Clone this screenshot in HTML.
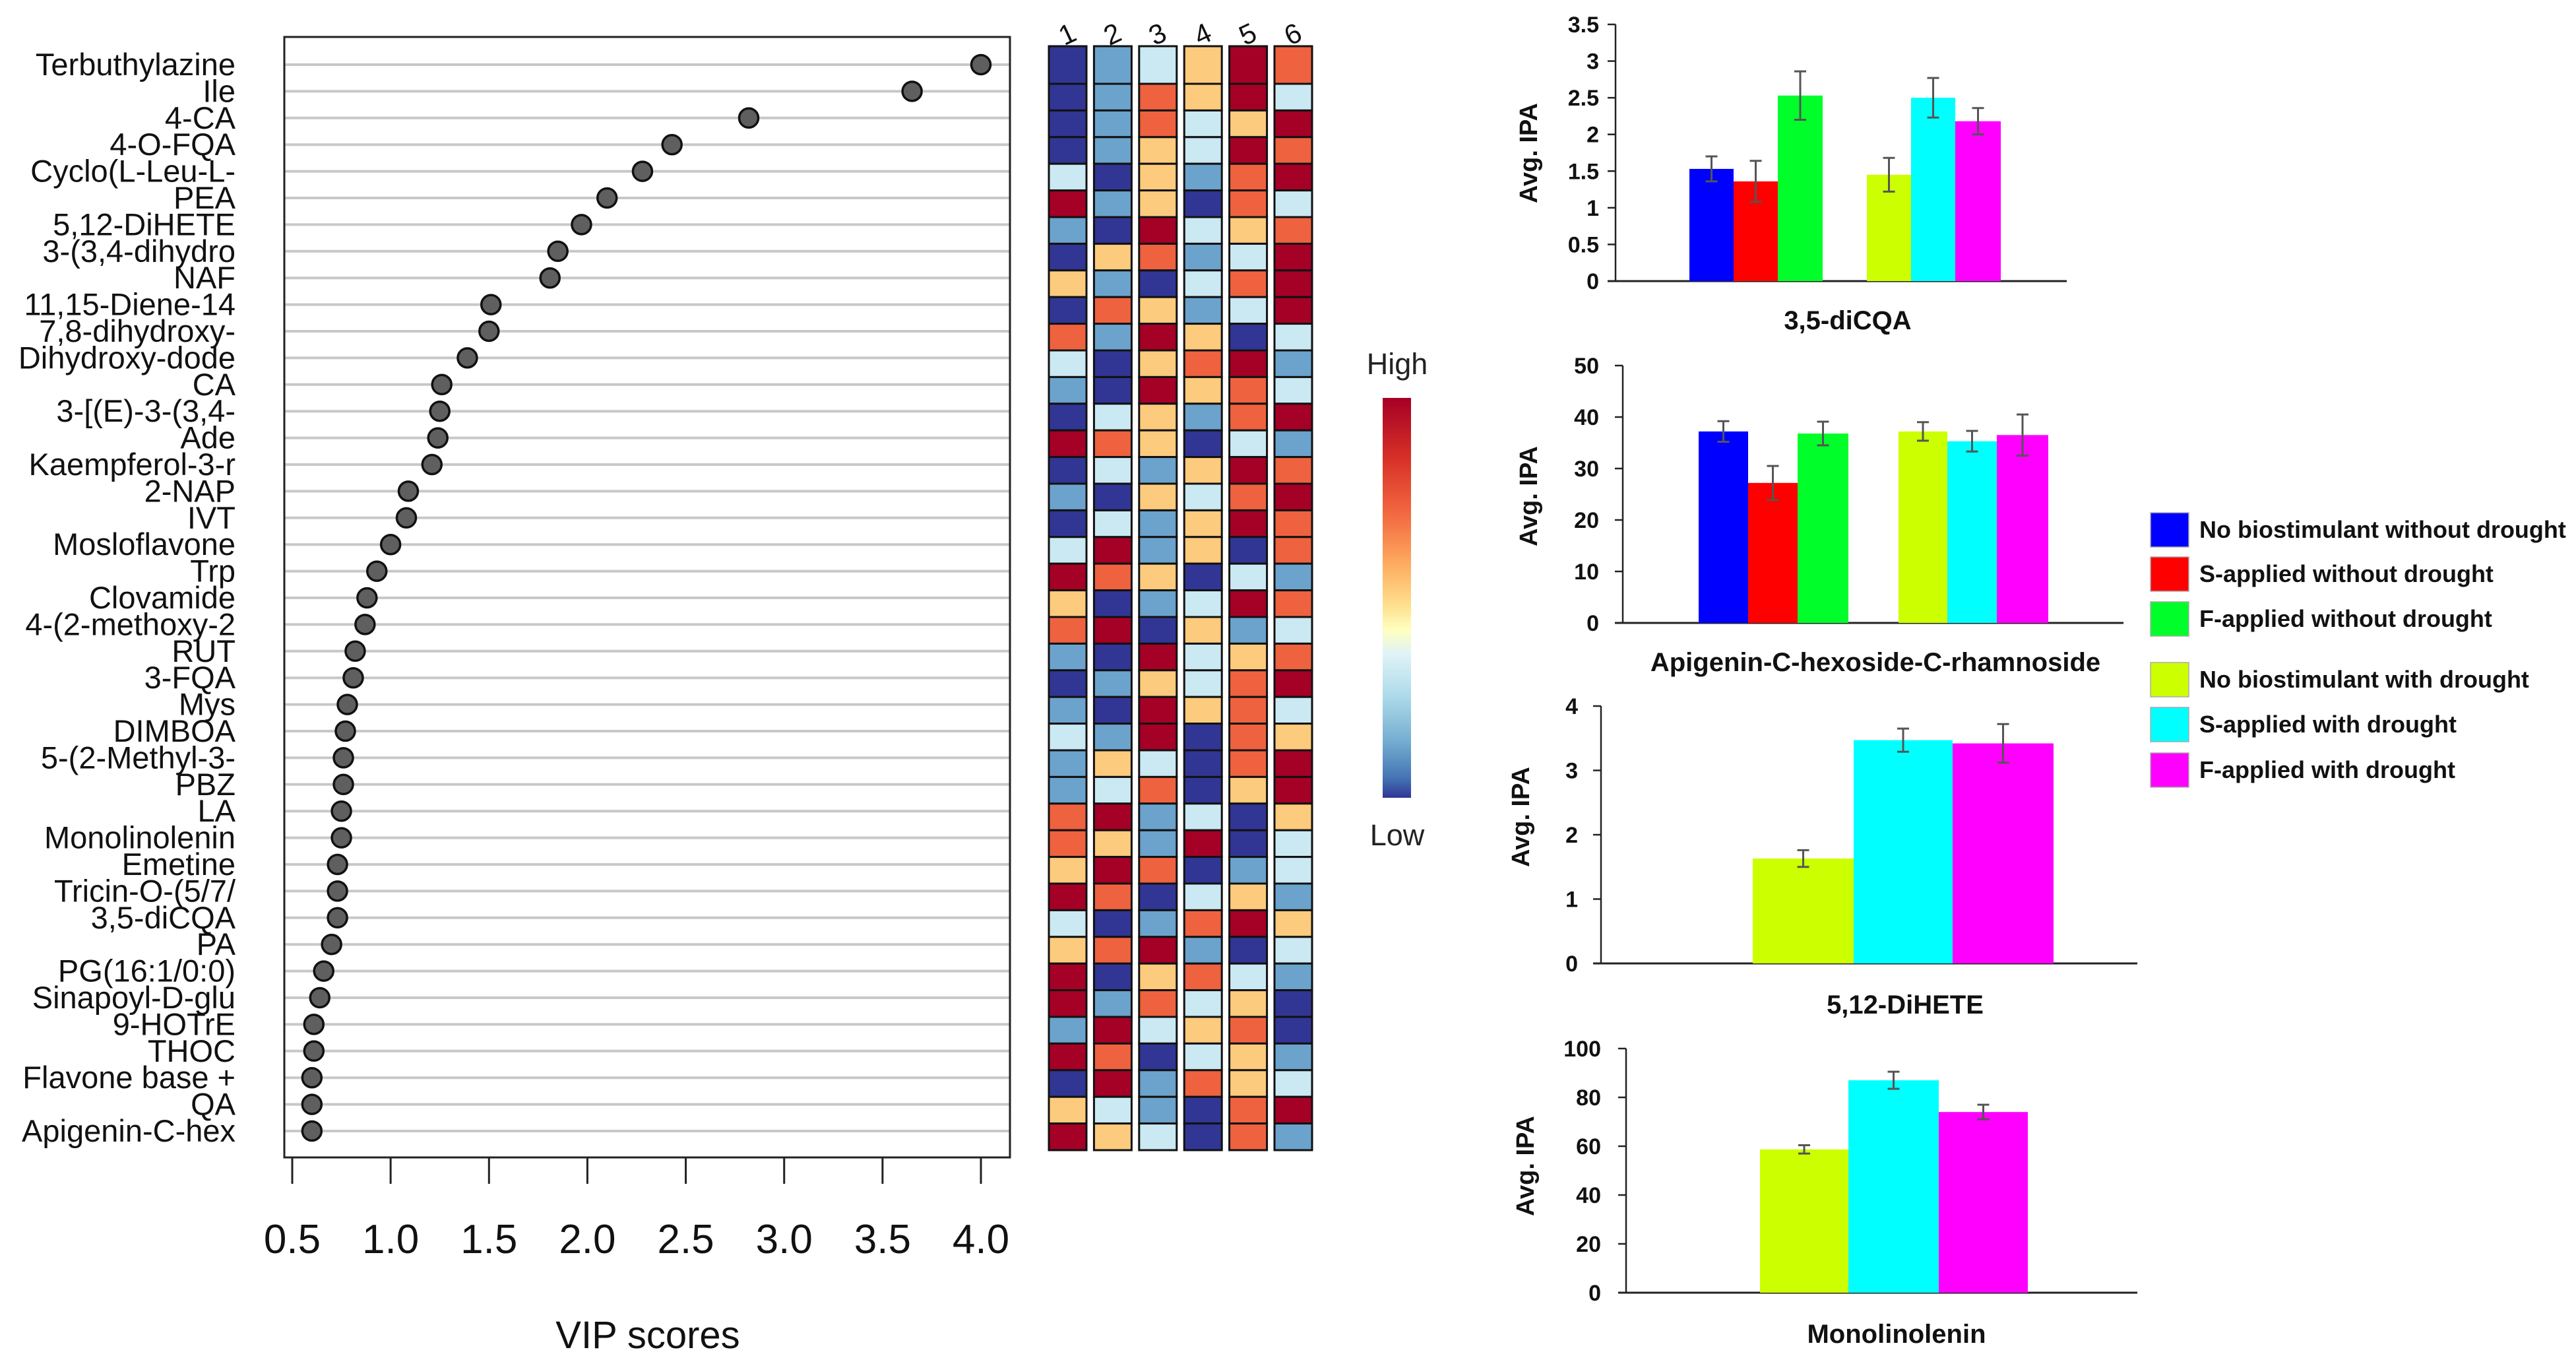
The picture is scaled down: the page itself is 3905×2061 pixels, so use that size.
<!DOCTYPE html>
<html><head><meta charset="utf-8"><style>
html,body{margin:0;padding:0;background:#fff;}
svg{display:block;}
text{font-family:"Liberation Sans",sans-serif;}
</style></head><body>
<svg id="fig" width="3905" height="2061" viewBox="0 0 3905 2061" xmlns="http://www.w3.org/2000/svg"></svg>
<script>
// ===== VIP dot plot data =====
const vipNames = ["Terbuthylazine","Ile","4-CA","4-O-FQA","Cyclo(L-Leu-L-","PEA","5,12-DiHETE","3-(3,4-dihydro","NAF","11,15-Diene-14","7,8-dihydroxy-","Dihydroxy-dode","CA","3-[(E)-3-(3,4-","Ade","Kaempferol-3-r","2-NAP","IVT","Mosloflavone","Trp","Clovamide","4-(2-methoxy-2","RUT","3-FQA","Mys","DIMBOA","5-(2-Methyl-3-","PBZ","LA","Monolinolenin","Emetine","Tricin-O-(5/7/","3,5-diCQA","PA","PG(16:1/0:0)","Sinapoyl-D-glu","9-HOTrE","THOC","Flavone base +","QA","Apigenin-C-hex"];
const vipScores = [4.0,3.65,2.82,2.43,2.28,2.1,1.97,1.85,1.81,1.51,1.5,1.39,1.26,1.25,1.24,1.21,1.09,1.08,1.0,0.93,0.88,0.87,0.82,0.81,0.78,0.77,0.76,0.76,0.75,0.75,0.73,0.73,0.73,0.70,0.66,0.64,0.61,0.61,0.60,0.60,0.60];
const vipTicks = [0.5,1.0,1.5,2.0,2.5,3.0,3.5,4.0];
// ===== Heatmap data (levels: 0 low .. 5 high) =====
const heatRows = ["DBLYRO","DBOYRL","DBOLYR","DBYLRO","LDYBOR","RBYDOL","BDRLYO","DYOBLR","YBDLOR","DOYBLR","OBRYDL","LDYORB","BDRYOL","DLYBOR","ROYDLB","DLBYRO","BDYLOR","DLBYRO","LRBYDO","ROYDLB","YDBLRO","ORDYBL","BDRLYO","DBYLOR","BDRYOL","LBRDOY","BYLDOR","BLODYR","ORBLDY","OYBRDL","YRODBL","RODLYB","LDBORY","YORBDL","RDYOLB","RBOLYD","BRLYOD","RODLYB","DRBOYL","YLBDOR","RYLDOB"];
const heatCols = ["1","2","3","4","5","6"];
// ===== Bar chart data =====
const groups = ["No biostimulant without drought","S-applied without drought","F-applied without drought","No biostimulant with drought","S-applied with drought","F-applied with drought"];
const c1Vals = [1.53,1.36,2.53,1.45,2.5,2.18];
const c1Err = [0.17,0.28,0.33,0.23,0.27,0.18];
const c1Ticks = ["0","0.5","1","1.5","2","2.5","3","3.5"];
const c2Vals = [37.2,27.2,36.8,37.2,35.3,36.5];
const c2Err = [2.0,3.3,2.3,1.8,2.0,4.0];
const c2Ticks = ["0","10","20","30","40","50"];
const c3Vals = [1.63,3.47,3.42];
const c3Err = [0.13,0.18,0.3];
const c3Ticks = ["0","1","2","3","4"];
const c4Vals = [58.7,87,74];
const c4Err = [1.7,3.5,3.0];
const c4Ticks = ["0","20","40","60","80","100"];

const NS="http://www.w3.org/2000/svg";
const svg=document.getElementById('fig');
function mk(tag,attrs,parent){const e=document.createElementNS(NS,tag);for(const k in attrs)e.setAttribute(k,attrs[k]);(parent||svg).appendChild(e);return e;}
function txt(s,attrs,parent){const e=mk('text',attrs,parent);e.textContent=s;return e;}

// ---------- VIP plot ----------
const vipG=mk('g',{});


const px0=431,px1=1531,py0=56,py1=1754;
const xScale=v=>443+(v-0.5)*(1487-443)/3.5;
const rowY=i=>98+i*40.4;
vipNames.forEach((n,i)=>{
  const l=mk('line',{x1:px0,x2:px1,y1:rowY(i),y2:rowY(i),stroke:'#c8c8c8','stroke-width':4},vipG);
  
  
  const t=txt(n,{x:357,y:rowY(i)+16,'text-anchor':'end','font-size':47,fill:'#111'},vipG);
  
  
});
const box=mk('rect',{x:px0,y:py0,width:px1-px0,height:py1-py0,fill:'none',stroke:'#222','stroke-width':3},vipG);


vipScores.forEach((v,i)=>{
  const c=mk('circle',{cx:xScale(v),cy:rowY(i),r:14.5,fill:'#5f5f5f',stroke:'#111','stroke-width':3.5},vipG);
  
  
});
vipTicks.forEach(t=>{
  const x=xScale(t);
  const l=mk('line',{x1:x,x2:x,y1:py1,y2:py1+40,stroke:'#222','stroke-width':3},vipG);
  
  
  const tx=txt(t.toFixed(1),{x:x,y:1899,'text-anchor':'middle','font-size':62,fill:'#111'},vipG);
  
  
});
const xt=txt('VIP scores',{x:982,y:2043,'text-anchor':'middle','font-size':58,fill:'#111'},vipG);



// ---------- Heatmap ----------
const hmG=mk('g',{});


const pal={D:'#313695',B:'#6ba3cd',L:'#cbe9f2',Y:'#fdcb7d',O:'#ef623f',R:'#a50026'};
const colX=j=>1590+j*68.4;
const cellTop=i=>i===0?70:127+(i-1)*40.4;
const cellBot=i=>127+i*40.4;
heatRows.forEach((row,i)=>{
  for(let j=0;j<heatCols.length;j++){
    const r=mk('rect',{x:colX(j),y:cellTop(i),width:57,height:cellBot(i)-cellTop(i),fill:pal[row[j]],stroke:'#111','stroke-width':3},hmG);
    
    
  }
});
heatCols.forEach((c,j)=>{
  const cx=colX(j)+28;
  const t=txt(c,{x:cx,y:66,'text-anchor':'middle','font-size':42,fill:'#111',transform:`rotate(-25 ${cx} 52)`},hmG);
  
  
});
// colour bar
const defs=mk('defs',{});
const lg=mk('linearGradient',{id:'cb',x1:0,y1:0,x2:0,y2:1},defs);
[['0','#a50026'],['0.15','#d73027'],['0.3','#f46d43'],['0.42','#fdae61'],['0.52','#fee090'],['0.58','#ffffbf'],['0.64','#e0f3f8'],['0.75','#abd9e9'],['0.86','#74add1'],['0.95','#4575b4'],['1','#313695']].forEach(s=>mk('stop',{offset:s[0],'stop-color':s[1]},lg));
const cb=mk('rect',{x:2096,y:603,width:43,height:606,fill:'url(#cb)'},hmG);


const hi=txt('High',{x:2118,y:567,'text-anchor':'middle','font-size':45,fill:'#222'},hmG);


const lo=txt('Low',{x:2118,y:1281,'text-anchor':'middle','font-size':45,fill:'#222'},hmG);



// ---------- Bar charts ----------
const barColors=['#0000ff','#ff0000','#00ff2a','#ccff00','#00ffff','#ff00ff'];
function barChart(cfg){
  const g=mk('g',{});
  
  
  const ymax=parseFloat(cfg.ticks[cfg.ticks.length-1]);
  const yS=v=>cfg.y0-(v/ymax)*(cfg.y0-cfg.yTop);
  const ax=mk('line',{x1:cfg.ax,x2:cfg.ax,y1:cfg.yTop,y2:cfg.y0,stroke:'#222','stroke-width':2.5},g);
  
  
  const bx=mk('line',{x1:cfg.ax-12,x2:cfg.xEnd,y1:cfg.y0,y2:cfg.y0,stroke:'#222','stroke-width':3},g);
  
  
  cfg.ticks.forEach(t=>{
    const y=yS(parseFloat(t));
    const tl=mk('line',{x1:cfg.ax-12,x2:cfg.ax,y1:y,y2:y,stroke:'#222','stroke-width':2.5},g);
    
    
    const tt=txt(t,{x:cfg.labR,y:y+12,'text-anchor':'end','font-size':34,'font-weight':'bold',fill:'#111'},g);
    
    
  });
  cfg.vals.forEach((v,i)=>{
    const x0=cfg.edges[i][0],x1=cfg.edges[i][1];
    const r=mk('rect',{x:x0,y:yS(v),width:x1-x0,height:cfg.y0-yS(v),fill:cfg.colors[i]},g);
    
    
    const cx=(x0+x1)/2, e=cfg.err[i];
    const eb=mk('path',{d:`M${cx-9},${yS(v+e)}H${cx+9}M${cx},${yS(v+e)}V${yS(v-e)}M${cx-9},${yS(v-e)}H${cx+9}`,stroke:'#555','stroke-width':3,fill:'none'},g);
    
    
  });
  const yl=txt('Avg. IPA',{x:cfg.ylx,y:cfg.yly,'text-anchor':'middle','font-size':38,'font-weight':'bold',fill:'#111',transform:`rotate(-90 ${cfg.ylx} ${cfg.yly})`},g);
  
  
  const ti=txt(cfg.title,{x:cfg.tx,y:cfg.ty+14,'text-anchor':'middle','font-size':40,'font-weight':'bold',fill:'#111'},g);
  
  
}
barChart({name:'bar-chart-3-5-dicqa',vals:c1Vals,err:c1Err,ticks:c1Ticks,colors:barColors,ax:2449,xEnd:3133,y0:426,yTop:37,labR:2424,
  edges:[[2561,2628],[2628,2695],[2695,2763],[2830,2897],[2897,2964],[2964,3033]],ylx:2330,yly:232,title:'3,5-diCQA',tx:2801,ty:485});
barChart({name:'bar-chart-apigenin',vals:c2Vals,err:c2Err,ticks:c2Ticks,colors:barColors,ax:2460,xEnd:3219,y0:944,yTop:554,labR:2424,
  edges:[[2575,2650],[2650,2725],[2725,2802],[2878,2952],[2952,3027],[3027,3105]],ylx:2330,yly:752,title:'Apigenin-C-hexoside-C-rhamnoside',tx:2843,ty:1003});
barChart({name:'bar-chart-5-12-dihete',vals:c3Vals,err:c3Err,ticks:c3Ticks,colors:barColors.slice(3),ax:2427,xEnd:3240,y0:1460,yTop:1070,labR:2392,
  edges:[[2657,2810],[2810,2960],[2960,3113]],ylx:2318,yly:1238,title:'5,12-DiHETE',tx:2888,ty:1522});
barChart({name:'bar-chart-monolinolenin',vals:c4Vals,err:c4Err,ticks:c4Ticks,colors:barColors.slice(3),ax:2465,xEnd:3240,y0:1959,yTop:1589,labR:2427,
  edges:[[2668,2802],[2802,2939],[2939,3074]],ylx:2325,yly:1767,title:'Monolinolenin',tx:2875,ty:2021});

// ---------- Legend ----------
const legG=mk('g',{});


const legY=[777,844,912,1004,1072,1141];
groups.forEach((gname,i)=>{
  const r=mk('rect',{x:3260,y:legY[i],width:58,height:52,fill:barColors[i],stroke:'#aaa','stroke-width':1.5},legG);
  
  
  const t=txt(gname,{x:3334,y:legY[i]+38,'font-size':36,'font-weight':'bold',fill:'#111'},legG);
  
  
});
</script>
</body></html>
